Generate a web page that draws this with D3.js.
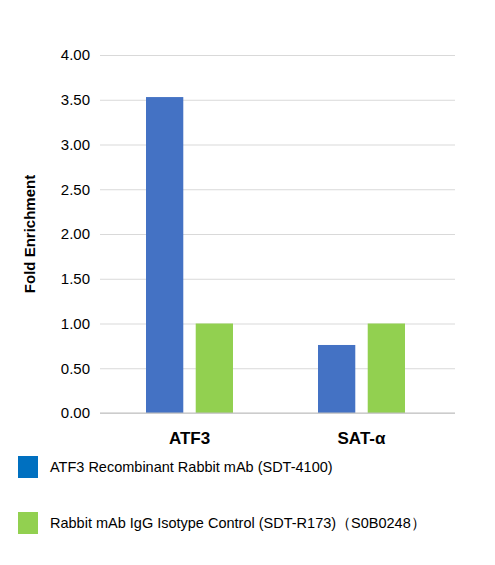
<!DOCTYPE html>
<html><head><meta charset="utf-8">
<script src="https://cdn.jsdelivr.net/npm/d3@7"></script>
<style>body{margin:0;background:#fff}text{font-family:"Liberation Sans",Arial,sans-serif}</style>
</head><body><svg id="c" width="495" height="565"></svg>
<script>
const categories=["ATF3","SAT-α"];
const seriesNames=["ATF3 Recombinant Rabbit mAb (SDT-4100)","Rabbit mAb IgG Isotype Control (SDT-R173)（S0B0248）"];
const antibodyValues=[3.53,0.76];
const igGValues=[1.00,1.00];
const yTicks=[0,0.5,1,1.5,2,2.5,3,3.5,4];
const colors=["#4472c4","#92d050"];

const svg=d3.select("#c");
const x0=d3.scaleBand().domain(categories).range([102,446]);
const x1=d3.scaleBand().domain([0,1]).range([44,131]).paddingInner(0.25);
const y=d3.scaleLinear().domain([0,4]).range([413,55]);

const yAxis=svg.append("g").attr("transform","translate(100,0)")
 .call(d3.axisLeft(y).tickValues(yTicks).tickFormat(d3.format(".2f")).tickSize(-355).tickPadding(10));
yAxis.select(".domain").remove();
yAxis.selectAll(".tick line").attr("stroke","#d9d9d9");
yAxis.selectAll(".tick text").attr("font-size",15).attr("fill","#000");

const data=categories.map((c,i)=>({c,v:[antibodyValues[i],igGValues[i]]}));
svg.append("g").selectAll("g").data(data).join("g")
 .attr("transform",d=>`translate(${x0(d.c)},0)`)
 .selectAll("rect").data(d=>d.v).join("rect")
 .attr("x",(d,i)=>x1(i)).attr("width",x1.bandwidth())
 .attr("y",d=>y(d)).attr("height",d=>y(0)-y(d)).attr("fill",(d,i)=>colors[i]);

svg.append("line").attr("x1",100).attr("x2",455).attr("y1",y(0)).attr("y2",y(0)).attr("stroke","#bfbfbf");

svg.append("g").selectAll("text").data(categories).join("text")
 .attr("x",d=>x0(d)+(x1(0)+x1(1)+x1.bandwidth())/2).attr("y",444).attr("text-anchor","middle")
 .attr("font-size",17).attr("font-weight","bold").text(d=>d);

svg.append("text").attr("transform","translate(35,234) rotate(-90)").attr("text-anchor","middle")
 .attr("font-size",15).attr("font-weight","bold").text("Fold Enrichment");

const lg=svg.append("g").selectAll("g").data(seriesNames).join("g")
 .attr("transform",(d,i)=>`translate(18,${456+i*56})`);
lg.append("rect").attr("width",20).attr("height",22).attr("fill",(d,i)=>i==0?"#0070c0":"#92d050");
lg.append("text").attr("x",32).attr("y",16).attr("font-size",14.5).text(d=>d);
</script></body></html>
